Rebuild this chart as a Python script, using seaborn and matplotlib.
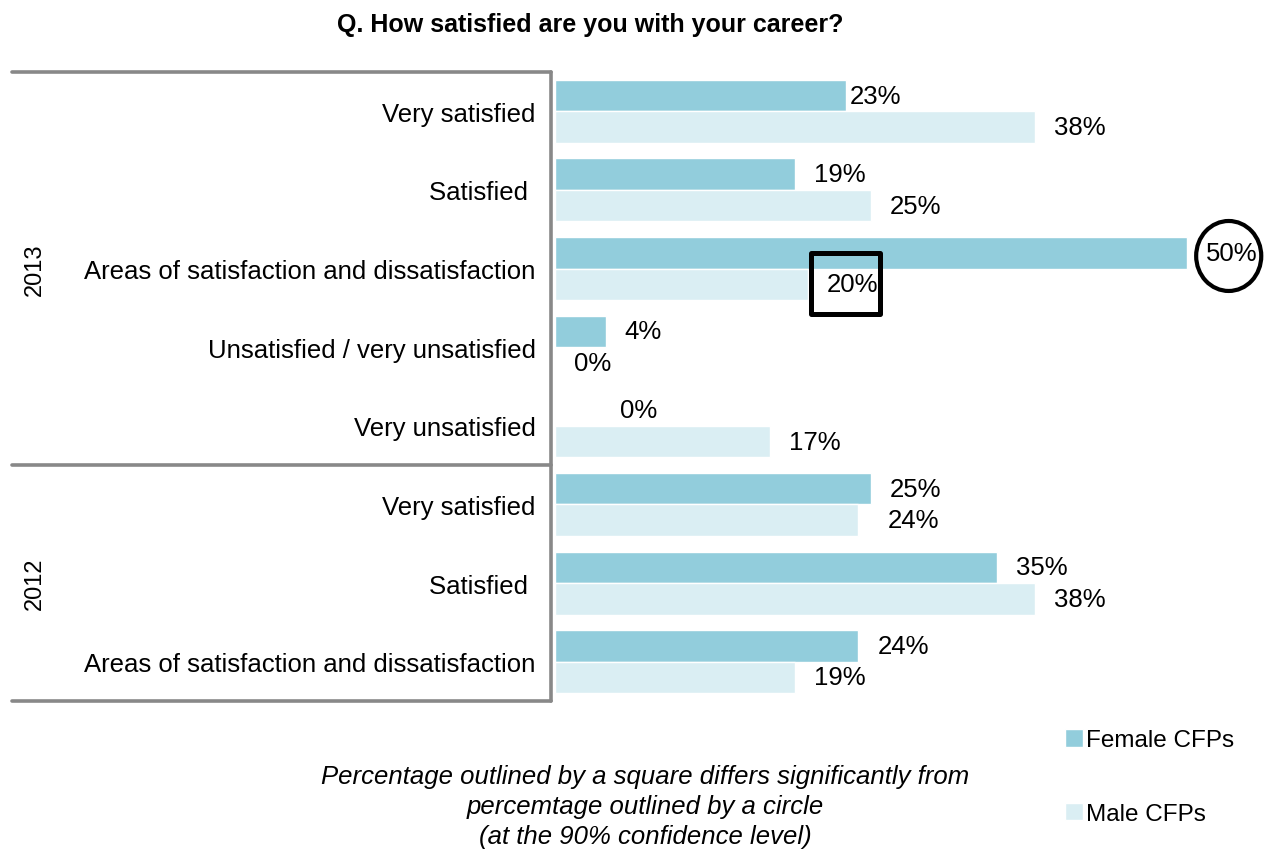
import pandas as pd
import matplotlib.pyplot as plt
import seaborn as sns
import matplotlib.transforms as mtransforms
from matplotlib.lines import Line2D
from matplotlib.patches import Rectangle, Ellipse

# Chart data
years = ['2013', '2013', '2013', '2013', '2013', '2012', '2012', '2012']
answers = ['Very satisfied', 'Satisfied ', 'Areas of satisfaction and dissatisfaction',
           'Unsatisfied / very unsatisfied', 'Very unsatisfied',
           'Very satisfied', 'Satisfied ', 'Areas of satisfaction and dissatisfaction']
female = [23, 19, 50, 4, 0, 25, 35, 24]
male = [38, 25, 20, 0, 17, 24, 38, 19]
series = ['Female CFPs', 'Male CFPs']
colors = ['#92CDDC', '#DAEEF3']

rows = [f'{y}|{a}|{i}' for i, (y, a) in enumerate(zip(years, answers))]
df = pd.DataFrame({
    'row': rows * 2,
    'pct': female + male,
    'gender': [series[0]] * len(rows) + [series[1]] * len(rows),
})

sns.set_theme(style='white')
plt.rcParams['font.family'] = ['Liberation Sans', 'DejaVu Sans']
plt.rcParams['text.color'] = 'black'
plt.rcParams['ytick.color'] = 'black'

W, H = 1279, 853
fig = plt.figure(figsize=(W / 100, H / 100), dpi=100)
ax = fig.add_axes([555 / W, 1 - 702 / H, 55 * 12.64 / W, (702 - 73) / H])

sns.barplot(data=df, y='row', x='pct', hue='gender', order=rows, hue_order=series,
            palette=colors, orient='h', width=0.8, saturation=1, ax=ax)

# value labels (a few were nudged by hand in the original)
nudge = {(0, 0): -15, (0, 4): 46, (1, 5): 10}
for k, cont in enumerate(ax.containers):
    for i, (bar, v) in enumerate(zip(cont, cont.datavalues)):
        off = (19 + nudge.get((k, i), 0)) * 0.72
        ax.annotate(f'{v:.0f}%', (bar.get_width(), bar.get_y() + bar.get_height() / 2),
                    xytext=(off, 0), textcoords='offset points',
                    ha='left', va='center', fontsize=18.5, color='black')

ax.set_xlim(0, 55)
ax.set_ylim(len(rows) - 0.5, -0.5)
ax.set_yticks(range(len(rows)))
ax.set_yticklabels(answers, fontsize=18.5)
ax.tick_params(axis='y', length=0, pad=14)
ax.set_xticks([])
ax.set_xlabel('')
ax.set_ylabel('')
for s in ax.spines.values():
    s.set_visible(False)

# group brackets
tr = mtransforms.blended_transform_factory(fig.transFigure, ax.transData)
gray = '#888888'
x0, x1 = 12 / W, 551 / W
for yb in [-0.5, 4.5, len(rows) - 0.5]:
    fig.add_artist(Line2D([x0, x1], [yb, yb], transform=tr, color=gray, lw=2.6,
                          solid_capstyle='round'))
fig.add_artist(Line2D([x1, x1], [-0.5, len(rows) - 0.5], transform=tr, color=gray,
                      lw=2.6, solid_capstyle='round'))
fig.text(35 / W, 2, '2013', transform=tr, rotation=90, ha='center', va='center', fontsize=17)
fig.text(35 / W, 6, '2012', transform=tr, rotation=90, ha='center', va='center', fontsize=17)

# significance markers
ax.add_patch(Ellipse((female[2] + 3.3, 2 - 0.16), 5.15, 0.89, fill=False,
                     ec='black', lw=3, clip_on=False))
ax.add_patch(Rectangle((male[2] + 0.25, 2 - 0.2), 5.45, 0.78, fill=False,
                       ec='black', lw=3.6, joinstyle='round', clip_on=False))

fig.text(590 / W, 1 - 25 / H, 'Q. How satisfied are you with your career?',
         ha='center', va='center', fontsize=18, fontweight='bold')
fig.text(645 / W, 1 - 807 / H,
         'Percentage outlined by a square differs significantly from\n'
         'percemtage outlined by a circle\n(at the 90% confidence level)',
         ha='center', va='center', fontsize=18.5, style='italic', linespacing=1.33)

handles, labels = ax.get_legend_handles_labels()
ax.legend(handles, labels, loc='center left', bbox_to_anchor=(1065 / W, 1 - 778 / H),
          bbox_transform=fig.transFigure, frameon=False, fontsize=17.5,
          handlelength=0.75, handleheight=0.75, handletextpad=0.1, labelspacing=2.1,
          borderpad=0, borderaxespad=0)

fig.savefig('out.png', dpi=100)
